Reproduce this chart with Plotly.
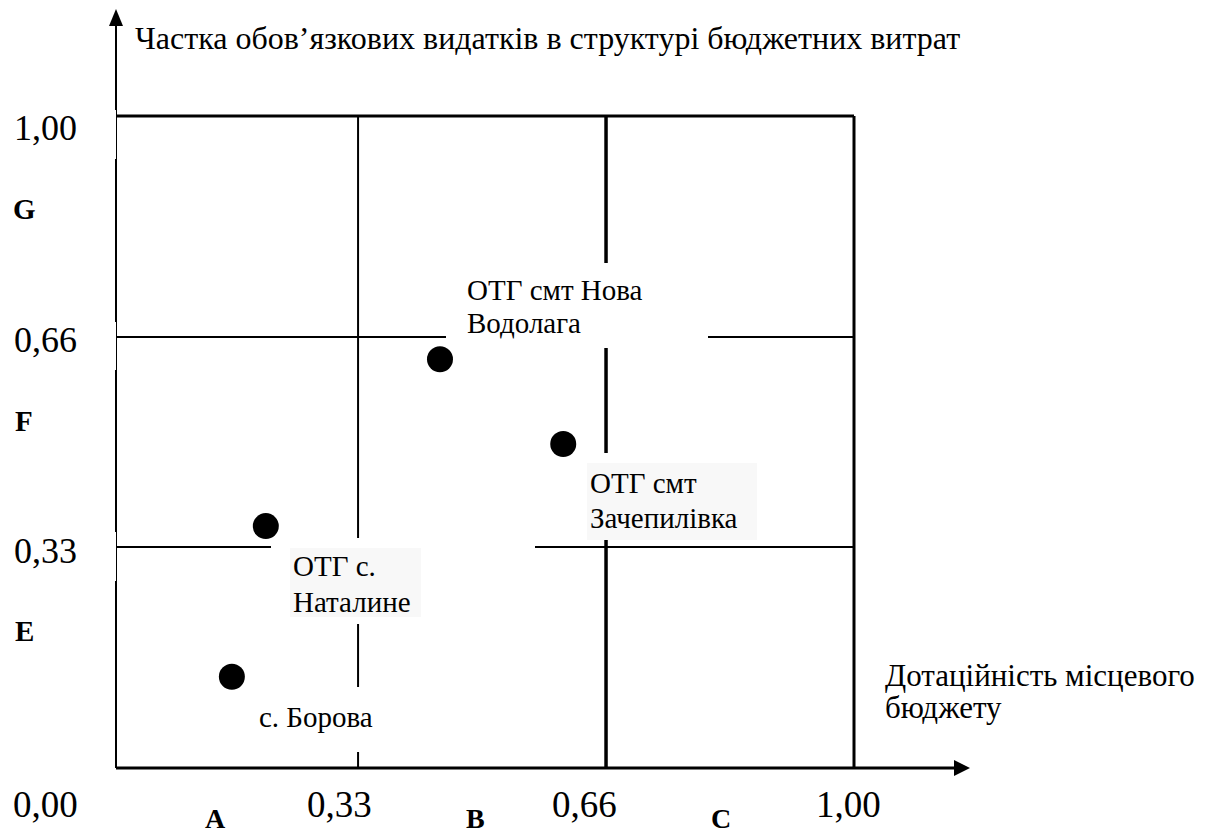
import plotly.graph_objects as go

# ---------------- data ----------------
communities = ["ОТГ смт Нова Водолага", "ОТГ смт Зачепилівка", "ОТГ с. Наталине", "с. Борова"]
label_lines = [["ОТГ смт Нова", "Водолага"], ["ОТГ смт", "Зачепилівка"], ["ОТГ с.", "Наталине"], ["с. Борова"]]
subsidy = [0.439, 0.606, 0.203, 0.157]          # Дотаційність місцевого бюджету
mandatory_share = [0.627, 0.497, 0.371, 0.140]  # Частка обов'язкових видатків

x_tick_pos = [0.0, 0.328, 0.664, 1.0]
x_tick_text = ["0,00", "0,33", "0,66", "1,00"]
y_tick_pos = [0.339, 0.661, 1.0]
y_tick_text = ["0,33", "0,66", "1,00"]
x_zones = ["A", "B", "C"]
y_zones = ["E", "F", "G"]

y_title = "Частка обов’язкових видатків в структурі бюджетних витрат"
x_title = ["Дотаційність місцевого", "бюджету"]

# ---------------- layout helpers (pixel -> data) ----------------
W, H = 1206, 834
PX0, PX1 = 116, 854
PY0, PY1 = 768, 116


def X(px):
    return (px - PX0) / (PX1 - PX0)


def Y(py):
    return (PY0 - py) / (PY0 - PY1)


FONT = "Liberation Serif"
fig = go.Figure()

shapes = []


def line(x0, y0, x1, y1, w=2):
    shapes.append(dict(type="line", xref="x", yref="y", x0=x0, y0=y0, x1=x1, y1=y1,
                       line=dict(color="black", width=w), layer="below"))


def rect(px0, py0, px1, py1, color="white"):
    shapes.append(dict(type="rect", xref="x", yref="y", x0=X(px0), x1=X(px1), y0=Y(py1), y1=Y(py0),
                       line=dict(width=0), fillcolor=color, layer="below"))


# frame and grid
line(0, 1, 1, 1, 3)               # top
line(1, 0, 1, 1, 3)               # right
for i, gx in enumerate(x_tick_pos[1:3]):
    line(gx, 0, gx, 1, 2 if i == 0 else 3.5)
for gy in y_tick_pos[:2]:
    line(0, gy, 1, gy, 2)
# axes with arrows
line(0, 0, X(956), 0, 3)
line(0, 0, 0, Y(24), 2)
shapes.append(dict(type="path", xref="x", yref="y", layer="below",
                   path=f"M {X(970)} {Y(768)} L {X(954)} {Y(760)} L {X(954)} {Y(776)} Z",
                   fillcolor="black", line=dict(width=0)))
shapes.append(dict(type="path", xref="x", yref="y", layer="below",
                   path=f"M {X(116)} {Y(9)} L {X(109)} {Y(26)} L {X(123)} {Y(26)} Z",
                   fillcolor="black", line=dict(width=0)))

# white text boxes hiding parts of the lines
rect(446, 263, 708, 348)     # Нова Водолага
rect(575, 453, 752, 540)     # Зачепилівка
rect(271, 538, 535, 624)     # Наталине
rect(245, 687, 400, 752)     # Борова
rect(587, 463, 757, 540, "#f8f8f8")
rect(290, 548, 421, 617, "#f8f8f8")
for py in [(110, 159), (322, 370), (532, 581)]:
    rect(0, py[0], 116, py[1])

# points
fig.add_trace(go.Scatter(x=subsidy, y=mandatory_share, mode="markers", text=communities,
                         marker=dict(size=26, color="black"), hoverinfo="text", showlegend=False))

ann = []


def text(px, py, s, size, anchor="left", bold=False):
    ann.append(dict(x=X(px), y=Y(py), xref="x", yref="y", text=f"<b>{s}</b>" if bold else s,
                    showarrow=False, xanchor=anchor, yanchor="middle",
                    font=dict(family=FONT, size=size, color="black")))


# point labels (left px, first line centre px, line gap)
label_pos = [(465, 290, 33), (588, 483, 35), (291, 566, 36), (257, 717, 0)]
for lines, (lx, ly, gap) in zip(label_lines, label_pos):
    for i, s in enumerate(lines):
        text(lx, ly + i * gap, s, 29)

# axis titles
text(133, 38, y_title, 32)
text(883, 675, x_title[0], 31)
text(883, 707, x_title[1], 31)

# tick labels
x_tick_px = [45, 339, 584, 848]
for t, px in zip(x_tick_text, x_tick_px):
    text(px, 804, t, 37, "center")
y_tick_py = [551, 340, 128]
for t, py in zip(y_tick_text, y_tick_py):
    text(45, py, t, 36, "center")

# zone letters
for z, px in zip(x_zones, [215, 475, 721]):
    text(px, 818, z, 28, "center", bold=True)
for z, py in zip(y_zones, [631, 421, 209]):
    text(24, py, z, 29, "center", bold=True)

fig.update_layout(
    width=W, height=H, margin=dict(l=0, r=0, t=0, b=0),
    paper_bgcolor="white", plot_bgcolor="white",
    xaxis=dict(range=[X(0), X(W)], visible=False, fixedrange=True),
    yaxis=dict(range=[Y(H), Y(0)], visible=False, fixedrange=True),
    shapes=shapes, annotations=ann, showlegend=False,
)

fig.write_html("out.html", config={"displayModeBar": False},
               post_script="document.body.style.margin='0';")
